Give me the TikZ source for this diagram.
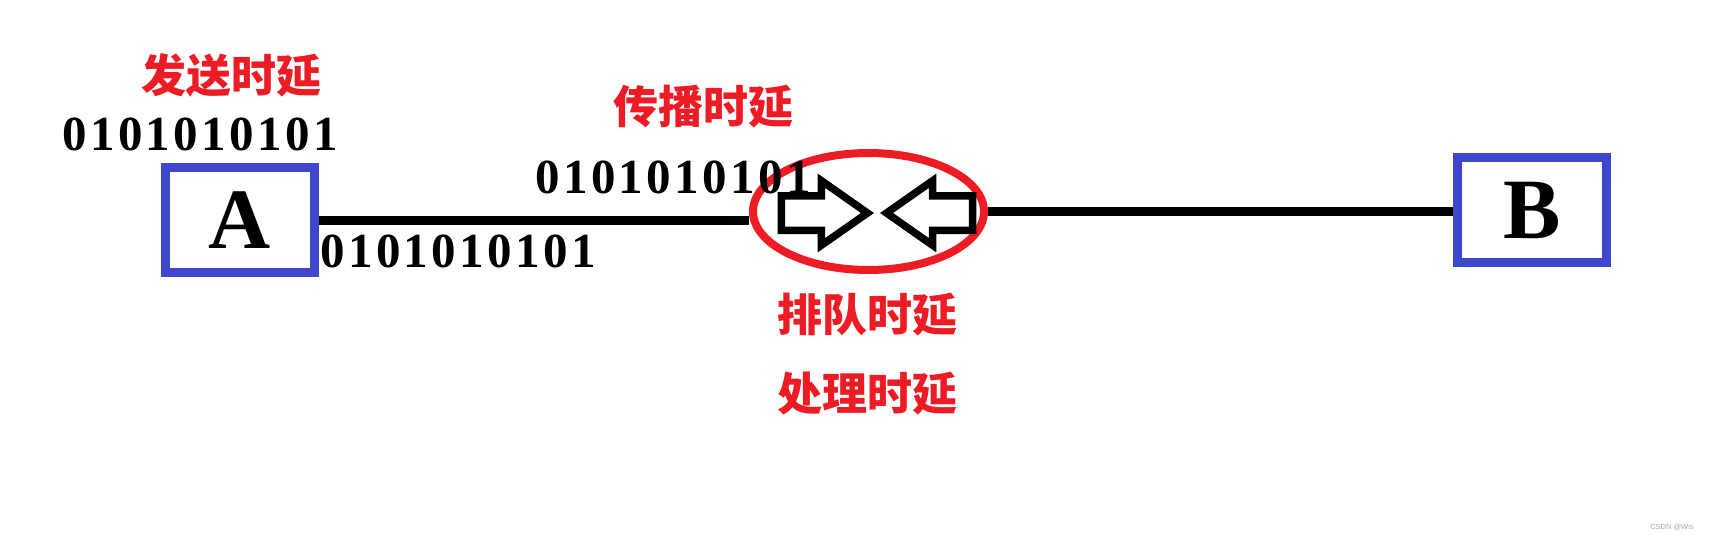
\documentclass[tikz,border=0pt]{standalone}
\usepackage{fontspec}
\setmainfont{Liberation Serif}
\setsansfont{Liberation Sans}
\newfontfamily\cjk{Noto Sans CJK SC}
\newfontfamily\bitfont{Liberation Serif}[LetterSpace=7]
\usetikzlibrary{positioning}
\usetikzlibrary{shapes.geometric}
\usetikzlibrary{shapes.arrows}

\definecolor{paintred}{RGB}{237,28,36}
\definecolor{paintblue}{RGB}{63,72,204}

\tikzset{
  host/.style={draw=paintblue, line width=9pt, minimum width=149pt, minimum height=105pt, inner sep=0pt, font=\fontsize{86}{90}\selectfont\bfseries},
  delay/.style={text=paintred, inner sep=0pt, font=\cjk\fontsize{45}{50}\selectfont\bfseries},
  bits/.style={anchor=base west, inner sep=0pt, font=\bitfont\fontsize{49}{54}\selectfont\bfseries},
  link/.style={line width=9pt},
  squeeze/.style={single arrow, draw, fill=white, line width=7.5pt, inner xsep=0pt, inner ysep=13.5pt, minimum height=86pt, single arrow head extend=15pt, single arrow tip angle=70}
}

\begin{document}
\begin{tikzpicture}[x=1pt, y=1pt]
  \useasboundingbox (0,0) rectangle (1711,-541);

  % Define nodes
  \node[host] (A) at (240,-220) {A};
  \node[host] (B) at (1532,-210) {B};
  \node[draw=paintred, ellipse, line width=8pt, minimum width=231pt, minimum height=117pt] (router) at (868.5,-211.5) {};
  \node[squeeze, anchor=tip] (inbound) at (874,-213) {};
  \node[squeeze, shape border rotate=180, anchor=tip] (outbound) at (880,-213) {};

  % Labels
  \node[delay] (send) at (231,-75) {发送时延};
  \node[bits] (sendbits) at (62,-150) {0101010101};
  \node[delay] (prop) at (703,-107) {传播时延};
  \node[bits] (propbits) at (535,-193) {0101010101};
  \node[bits] (linebits) at (320,-267) {0101010101};
  \node[delay] (queue) at (867,-315) {排队时延};
  \node[delay, below=35pt of queue] (proc) {处理时延};
  \node[text=black!35, font=\sffamily\fontsize{7.5}{9}\selectfont] (mark) at (1672,-527) {CSDN @Wis};

  % Connect the nodes
  \draw[link] (A.east) -- (A.east -| router.west);
  \draw[link] (router.east) -- (router.east -| B.west);

\end{tikzpicture}
\end{document}
